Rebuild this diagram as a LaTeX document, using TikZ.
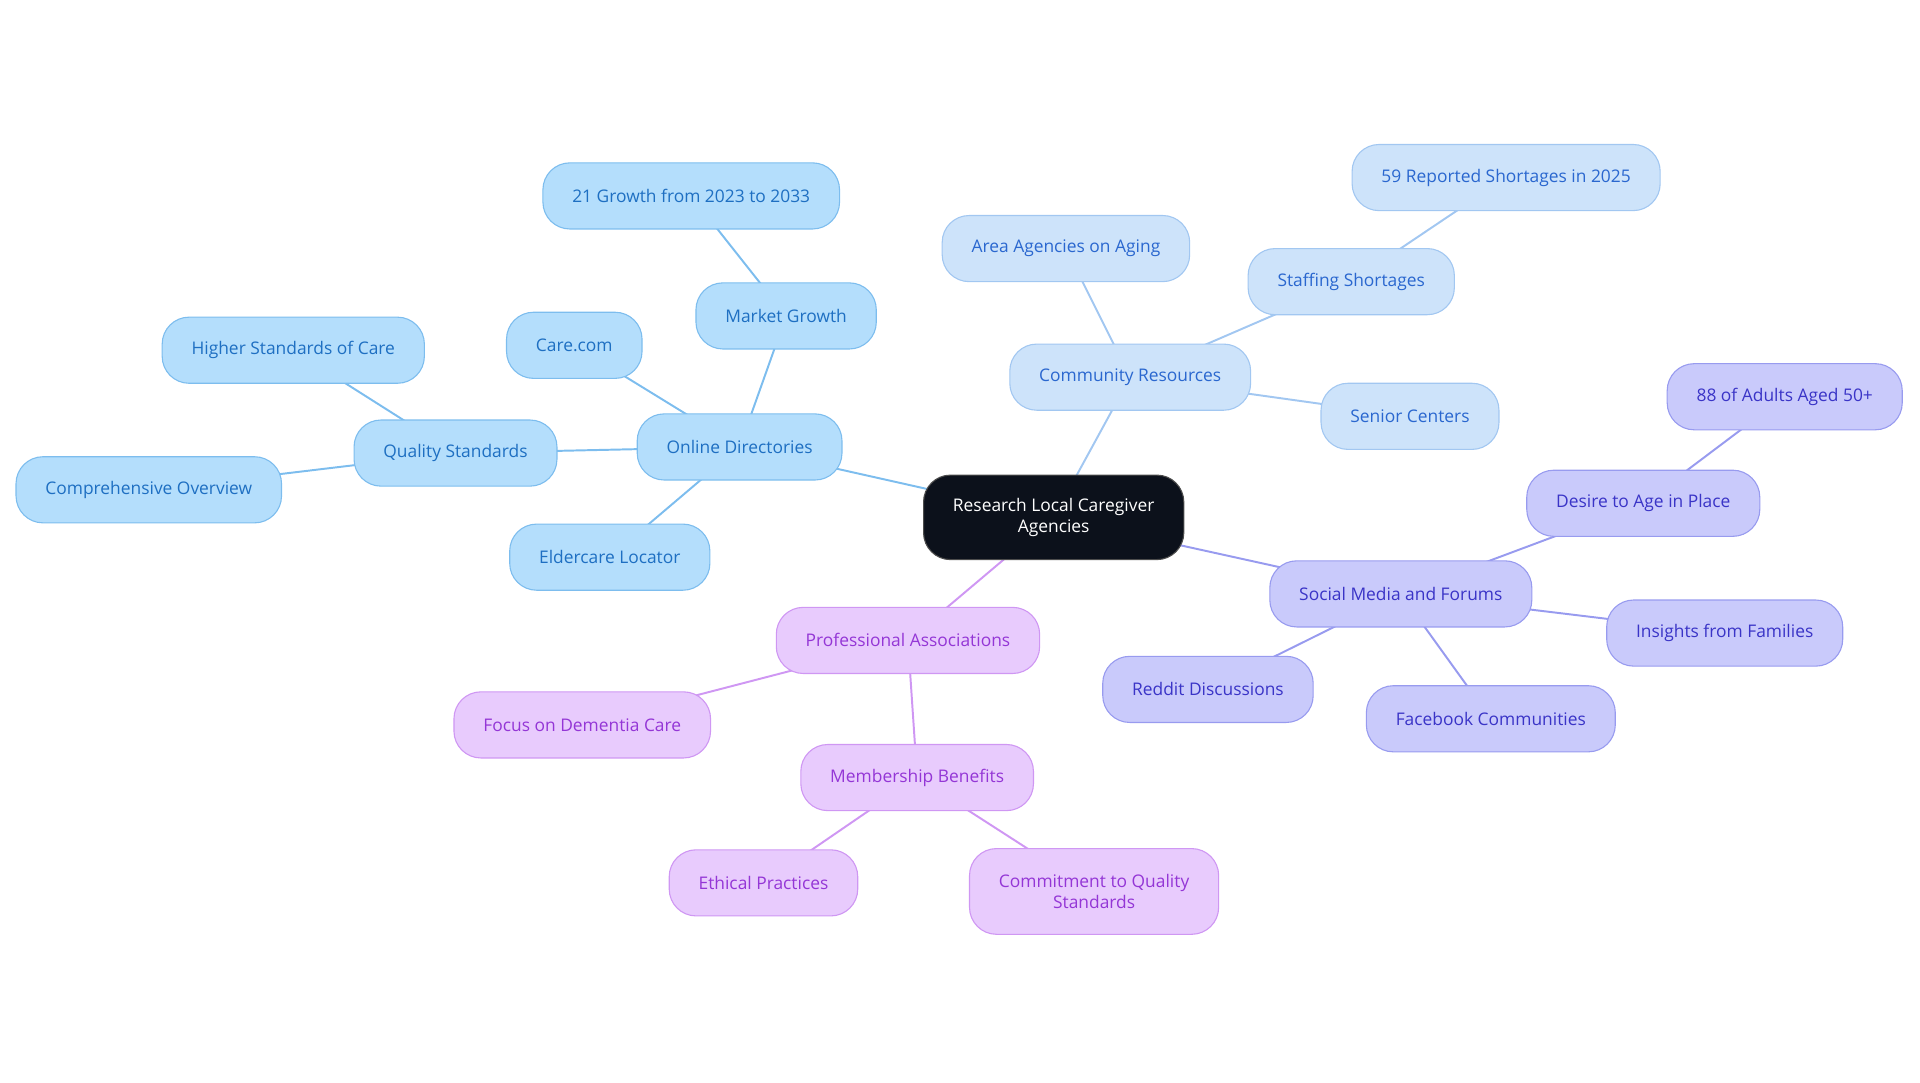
\documentclass[tikz,border=0pt]{standalone}
\usepackage{fontspec}
\setmainfont{Open Sans}
\usetikzlibrary{backgrounds}
\definecolor{rootfill}{HTML}{0C111B}
\definecolor{dirfill}{HTML}{B4DEFC}
\definecolor{dirline}{HTML}{7DBDEE}
\definecolor{dirtext}{HTML}{1E6FC2}
\definecolor{comfill}{HTML}{CDE3FA}
\definecolor{comline}{HTML}{A2C7F1}
\definecolor{comtext}{HTML}{2A67CF}
\definecolor{socfill}{HTML}{C9CAFB}
\definecolor{socline}{HTML}{989BEF}
\definecolor{soctext}{HTML}{3A34C7}
\definecolor{profill}{HTML}{E8CBFD}
\definecolor{proline}{HTML}{CF97F3}
\definecolor{protext}{HTML}{9436D6}

\begin{document}
\begin{tikzpicture}[x=1pt,y=-1pt,
    box/.style={rounded corners=22pt,minimum height=54pt,inner xsep=24pt,
      line width=0.9pt,align=center,font=\fontsize{14.2}{17}\selectfont},
    rootbox/.style={box,fill=rootfill,draw=black!70,text=white,minimum height=69pt},
    dirbox/.style={box,fill=dirfill,draw=dirline,text=dirtext},
    combox/.style={box,fill=comfill,draw=comline,text=comtext},
    socbox/.style={box,fill=socfill,draw=socline,text=soctext},
    probox/.style={box,fill=profill,draw=proline,text=protext},
    link/.style={line width=1.6pt}]
  \useasboundingbox (0,0) rectangle (1568,884);

  % centre
  \node[rootbox] (root) at (860.5,422.5) {Research Local Caregiver\\Agencies};

  % online directories
  \node[dirbox] (online)  at (604,365)   {Online Directories};
  \node[dirbox] (market)  at (642,258)   {Market Growth};
  \node[dirbox] (growth)  at (564.5,160) {21 Growth from 2023 to 2033};
  \node[dirbox] (carecom) at (469,282)   {Care.com};
  \node[dirbox] (quality) at (372,370)   {Quality Standards};
  \node[dirbox] (higher)  at (239.5,286) {Higher Standards of Care};
  \node[dirbox] (overview) at (121.5,400) {Comprehensive Overview};
  \node[dirbox] (locator) at (498,455)   {Eldercare Locator};

  % community resources
  \node[combox] (community) at (923,308)    {Community Resources};
  \node[combox] (aging)     at (870.5,203)  {Area Agencies on Aging};
  \node[combox] (staffing)  at (1103.5,230) {Staffing Shortages};
  \node[combox] (shortage)  at (1230,145)   {59 Reported Shortages in 2025};
  \node[combox] (senior)    at (1151.5,340) {Senior Centers};

  % social media
  \node[socbox] (social)   at (1144,485)   {Social Media and Forums};
  \node[socbox] (desire)   at (1342,411)   {Desire to Age in Place};
  \node[socbox] (adults)   at (1457.5,324) {88 of Adults Aged 50+};
  \node[socbox] (insights) at (1408.5,517) {Insights from Families};
  \node[socbox] (facebook) at (1217.5,587) {Facebook Communities};
  \node[socbox] (reddit)   at (986.5,563)  {Reddit Discussions};

  % professional associations
  \node[probox] (assoc)    at (741.5,523) {Professional Associations};
  \node[probox] (dementia) at (475.5,592) {Focus on Dementia Care};
  \node[probox] (member)   at (749,635)   {Membership Benefits};
  \node[probox] (ethical)  at (623.5,721) {Ethical Practices};
  \node[probox,minimum height=70pt] (commit) at (893.5,728) {Commitment to Quality\\Standards};

  \begin{scope}[on background layer]
    \draw[link,dirline] (root.center) -- (online.center);
    \foreach \t in {market,carecom,quality,locator}
      \draw[link,dirline] (online.center) -- (\t.center);
    \draw[link,dirline] (market.center) -- (growth.center);
    \draw[link,dirline] (quality.center) -- (higher.center);
    \draw[link,dirline] (quality.center) -- (overview.center);

    \draw[link,comline] (root.center) -- (community.center);
    \foreach \t in {aging,staffing,senior}
      \draw[link,comline] (community.center) -- (\t.center);
    \draw[link,comline] (staffing.center) -- (shortage.center);

    \draw[link,socline] (root.center) -- (social.center);
    \foreach \t in {desire,insights,facebook,reddit}
      \draw[link,socline] (social.center) -- (\t.center);
    \draw[link,socline] (desire.center) -- (adults.center);

    \draw[link,proline] (root.center) -- (assoc.center);
    \draw[link,proline] (assoc.center) -- (dementia.center);
    \draw[link,proline] (assoc.center) -- (member.center);
    \draw[link,proline] (member.center) -- (ethical.center);
    \draw[link,proline] (member.center) -- (commit.center);
  \end{scope}
\end{tikzpicture}
\end{document}
